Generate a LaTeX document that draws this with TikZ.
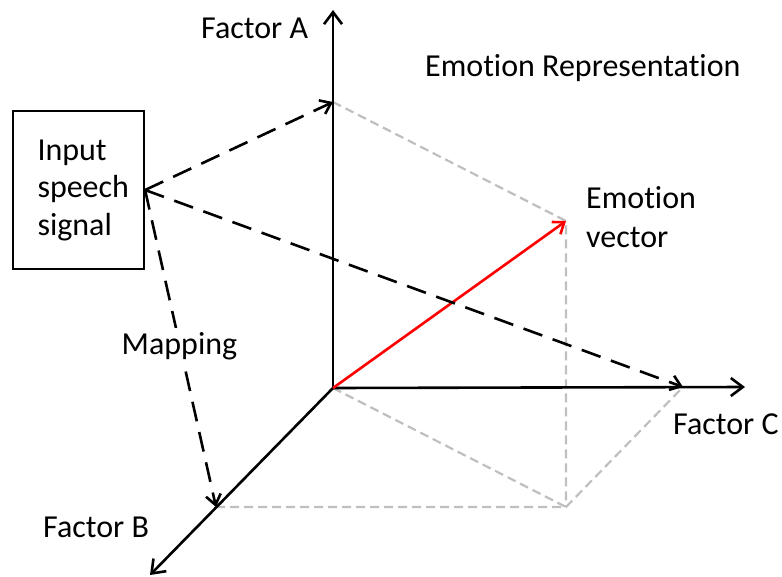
\documentclass[tikz,border=0pt]{standalone}
\usepackage{fontspec}
\setmainfont{Carlito}[Ligatures=NoCommon]
\usetikzlibrary{arrows.meta}
\begin{document}
\begin{tikzpicture}[x=1pt,y=-1pt,
  every node/.style={font=\fontsize{32}{37.5}\selectfont, inner sep=0pt},
  lbl/.style={anchor=base west},
  axis/.style={line width=2.6pt, -{Straight Barb[length=12pt,width=18pt]}},
  guide/.style={draw=black!25, line width=2.2pt, dash pattern=on 9pt off 5pt},
  maparrow/.style={line width=2.6pt, dash pattern=on 20pt off 11pt,
    -{Straight Barb[length=10pt,width=15pt]}},
  vec/.style={red, line width=2.6pt, -{Straight Barb[length=10pt,width=15pt]}}
]
\useasboundingbox (0,0) rectangle (782,576);

% corner points of the box spanned by the three factors
\coordinate (O)  at (333,388);
\coordinate (Aend) at (333,10);
\coordinate (Bend) at (150,575);
\coordinate (Cend) at (745,387);
\coordinate (Ap) at (333,102);
\coordinate (Bp) at (216,507);
\coordinate (Cp) at (683,387);
\coordinate (BC) at (566,507);
\coordinate (E)  at (566,221);

% projection guides
\draw[guide] (Ap) -- (E) -- (BC);
\draw[guide] (O) -- (BC);
\draw[guide] (Bp) -- (BC) -- (Cp);

% axes
\draw[axis] (O) -- (Aend);
\draw[axis] (O) -- (Cend);
\draw[axis] (O) -- (Bend);

% emotion vector
\draw[vec] (O) -- (E);

% input box (text block kept narrow so its left edge sits 25pt inside)
\node[draw, line width=2.2pt, minimum width=131pt, minimum height=158pt,
      text width=82pt, align=left] (inp) at (78.5,190)
      {Input\\speech\\signal};

% mapping arrows
\draw[maparrow] (inp.east) -- (Ap);
\draw[maparrow] (inp.east) -- (Cp);
\draw[maparrow] (inp.east) -- (Bp);

% labels
\node[anchor=base, fill=white, inner sep=4pt] (map) at (179.5,354) {Mapping};
\node[lbl] (fa) at (201,38) {Factor A};
\node[lbl] (fb) at (43,537) {Factor B};
\node[lbl] (fc) at (673,434) {Factor C};
\node[lbl] (er) at (425,76) {Emotion Representation};
\node[lbl] (ev1) at (586,208) {Emotion};
\node[lbl] (ev2) at (586,247) {vector};
\end{tikzpicture}
\end{document}
